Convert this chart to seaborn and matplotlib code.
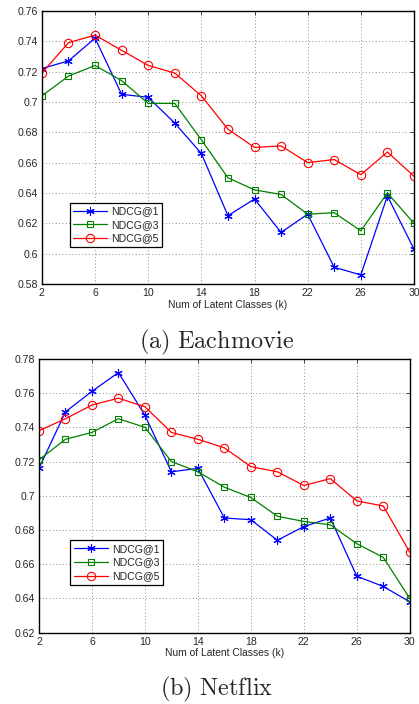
import numpy as np
import pandas as pd
import matplotlib
matplotlib.use("Agg")
import matplotlib.pyplot as plt
import seaborn as sns
from matplotlib.ticker import FuncFormatter

# latent classes k
k_values = [2, 4, 6, 8, 10, 12, 14, 16, 18, 20, 22, 24, 26, 28, 30]

# (a) Eachmovie
each_ndcg1 = [0.722, 0.727, 0.742, 0.705, 0.703, 0.686, 0.666, 0.625, 0.636, 0.614, 0.626, 0.591, 0.586, 0.638, 0.603]
each_ndcg3 = [0.704, 0.717, 0.724, 0.714, 0.699, 0.699, 0.675, 0.650, 0.642, 0.639, 0.626, 0.627, 0.615, 0.640, 0.620]
each_ndcg5 = [0.719, 0.739, 0.744, 0.734, 0.724, 0.719, 0.704, 0.682, 0.670, 0.671, 0.660, 0.662, 0.652, 0.667, 0.651]

# (b) Netflix
net_ndcg1 = [0.716, 0.749, 0.761, 0.772, 0.747, 0.714, 0.716, 0.687, 0.686, 0.674, 0.682, 0.687, 0.653, 0.647, 0.638]
net_ndcg3 = [0.721, 0.733, 0.737, 0.745, 0.740, 0.720, 0.714, 0.705, 0.699, 0.688, 0.685, 0.683, 0.672, 0.664, 0.640]
net_ndcg5 = [0.738, 0.745, 0.753, 0.757, 0.752, 0.737, 0.733, 0.728, 0.717, 0.714, 0.706, 0.710, 0.697, 0.694, 0.667]

series_names = ["NDCG@1", "NDCG@3", "NDCG@5"]
x_ticks = [2, 6, 10, 14, 18, 22, 26, 30]

sns.set_style("white")
plt.rcParams["font.family"] = ["Liberation Sans", "DejaVu Sans"]
plt.rcParams["mathtext.fontset"] = "cm"

styles = {
    "NDCG@1": dict(color=(0, 0, 1), marker=(6, 2, 0), ms=6),
    "NDCG@3": dict(color=(0, 0.5, 0), marker="s", ms=5),
    "NDCG@5": dict(color=(1, 0, 0), marker="o", ms=6),
}


def draw_panel(ax, values, yticks, legend_anchor, caption, caption_y):
    df = pd.DataFrame({"k": k_values * 3,
                       "ndcg": sum(values, []),
                       "series": np.repeat(series_names, len(k_values))})
    for name in series_names:
        st = styles[name]
        sns.lineplot(data=df[df["series"] == name], x="k", y="ndcg", ax=ax,
                     color=st["color"], marker=st["marker"], markersize=st["ms"],
                     markerfacecolor="none", markeredgecolor=st["color"],
                     markeredgewidth=0.8, linewidth=0.9, label=name)
    ax.set_xlim(2, 30)
    ax.set_ylim(yticks[0], yticks[-1])
    ax.set_xticks(x_ticks)
    ax.set_yticks(yticks)
    ax.yaxis.set_major_formatter(FuncFormatter(lambda v, p: ("%.2f" % v).rstrip("0")))
    ax.grid(True, linestyle=(0, (1, 3)), color="#666666", linewidth=0.6)
    ax.tick_params(direction="in", labelsize=7.6, length=3, width=0.6,
                   top=True, right=True, pad=3)
    for sp in ax.spines.values():
        sp.set_color("black")
        sp.set_linewidth(1.0)
    ax.set_xlabel("Num of Latent Classes (k)", fontsize=7.4, labelpad=1)
    ax.set_ylabel("")
    leg = ax.legend(loc="lower left", bbox_to_anchor=legend_anchor, fontsize=7.6,
                    fancybox=False, framealpha=1, edgecolor="black",
                    handlelength=3.2, borderpad=0.35, labelspacing=0.35,
                    handletextpad=0.4)
    leg.get_frame().set_linewidth(0.9)
    fig.text(0.516, caption_y, caption, ha="center", va="center", fontsize=17.5)


fig = plt.figure(figsize=(4.19, 7.04), dpi=100)
ax1 = fig.add_axes([0.100, 0.5966, 0.888, 0.388])
ax2 = fig.add_axes([0.093, 0.1013, 0.885, 0.389])

draw_panel(ax1, [each_ndcg1, each_ndcg3, each_ndcg5],
           list(np.round(np.arange(0.58, 0.7601, 0.02), 2)),
           (0.06, 0.115), r"$\mathrm{(a)\ Eachmovie}$", 1 - 342 / 704)
draw_panel(ax2, [net_ndcg1, net_ndcg3, net_ndcg5],
           list(np.round(np.arange(0.62, 0.7801, 0.02), 2)),
           (0.07, 0.155), r"$\mathrm{(b)\ Netflix}$", 1 - 689 / 704)

fig.savefig("out.png", dpi=100)
